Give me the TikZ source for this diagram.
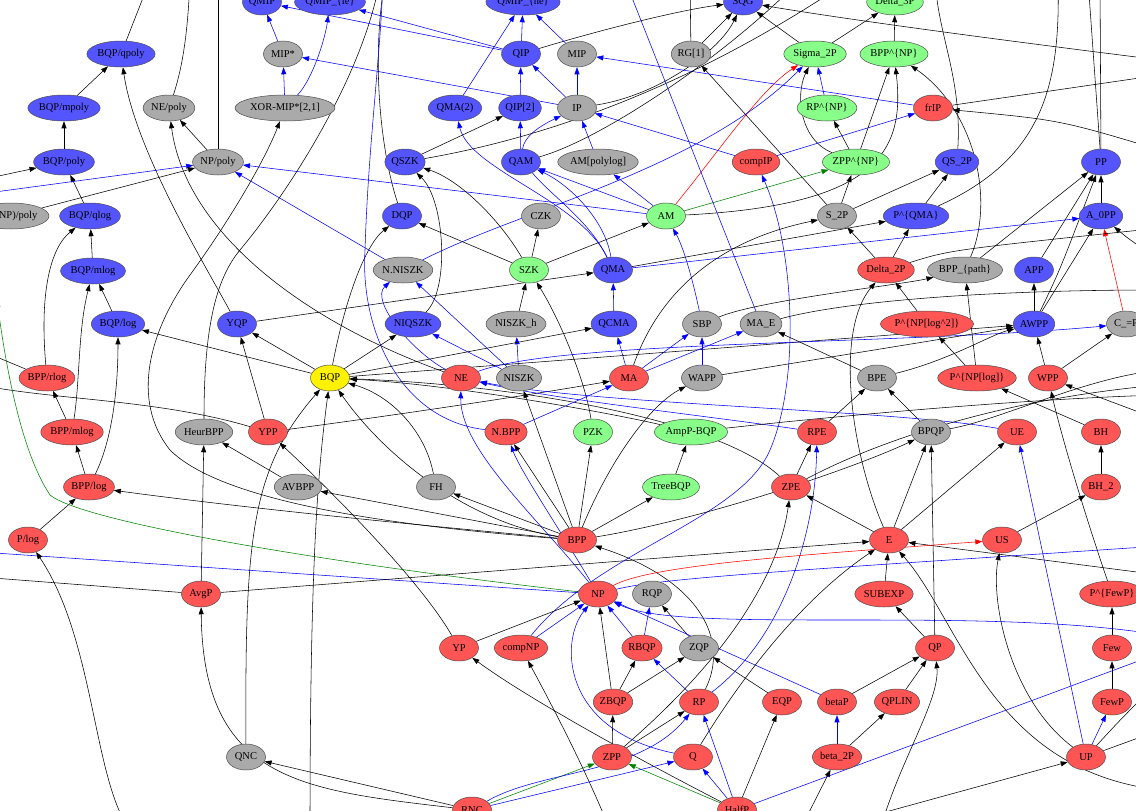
\documentclass[tikz,border=0pt]{standalone}
\usepackage{fontspec}
\setmainfont{Liberation Serif}
\usetikzlibrary{shapes.geometric,arrows.meta}
\pgfdeclarelayer{bg}
\pgfsetlayers{bg,main}
\definecolor{qblue}{RGB}{85,85,255}
\definecolor{cred}{RGB}{255,85,85}
\definecolor{cgray}{RGB}{170,170,170}
\definecolor{cgreen}{RGB}{136,255,136}
\definecolor{egreen}{RGB}{0,128,0}
\newcommand\crt{\textasciicircum}
\newcommand\usc{\_}
\begin{document}
\begin{tikzpicture}[x=1pt,y=-1pt]
\tikzset{
  cls/.style={ellipse,draw=black!70,line width=0.5pt,inner sep=0.5pt,
    minimum width=39pt,minimum height=26pt,font=\fontsize{10.5}{12}\selectfont},
  qn/.style={cls,fill=qblue},
  rn/.style={cls,fill=cred},
  gn/.style={cls,fill=cgray},
  grn/.style={cls,fill=cgreen},
  yn/.style={cls,fill=yellow},
  e/.style={line width=0.55pt,-{Triangle[length=7pt,width=5pt]}},
  eb/.style={e,blue},
  er/.style={e,red},
  eg/.style={e,egreen},
}
\useasboundingbox (0,0) rectangle (1136,811);
\clip (0,0) rectangle (1136,811);
% quantum classes
\node[qn] (QMIP) at (262,2) {QMIP};
\node[qn] (QMIPle) at (330,2) {QMIP\usc\{le\}};
\node[qn] (QMIPne) at (523,2) {QMIP\usc\{ne\}};
\node[qn] (SQG) at (743,2) {SQG};
\node[qn] (BQPqpoly) at (121,54) {BQP/qpoly};
\node[qn] (QIP) at (521,54) {QIP};
\node[qn] (BQPmpoly) at (64,108) {BQP/mpoly};
\node[qn] (QMAtwo) at (455,108) {QMA(2)};
\node[qn] (QIPtwo) at (520,108) {QIP[2]};
\node[qn] (BQPpoly) at (64,162) {BQP/poly};
\node[qn] (QSZK) at (405,162) {QSZK};
\node[qn] (QAM) at (521,162) {QAM};
\node[qn] (QStwoP) at (957,162) {QS\usc2P};
\node[qn] (PP) at (1101,162) {PP};
\node[qn] (BQPqlog) at (90,216) {BQP/qlog};
\node[qn] (DQP) at (402,216) {DQP};
\node[qn] (PQMA) at (916,216) {P\crt\{QMA\}};
\node[qn] (AzeroPP) at (1101,216) {A\usc0PP};
\node[qn] (BQPmlog) at (93,271) {BQP/mlog};
\node[qn] (QMA) at (613,270) {QMA};
\node[qn] (APP) at (1034,270) {APP};
\node[qn] (BQPlog) at (118,324) {BQP/log};
\node[qn] (YQP) at (237,324) {YQP};
\node[qn] (NIQSZK) at (413,324) {NIQSZK};
\node[qn] (QCMA) at (614,324) {QCMA};
\node[qn] (AWPP) at (1034,324) {AWPP};
% gray classes
\node[gn] (MIPs) at (283,54) {MIP*};
\node[gn] (MIP) at (577,54) {MIP};
\node[gn] (RGone) at (691,54) {RG[1]};
\node[gn] (NEpoly) at (169,108) {NE/poly};
\node[gn] (XORMIP) at (285,108) {XOR-MIP*[2,1]};
\node[gn] (IP) at (577,108) {IP};
\node[gn] (NPpoly) at (218,162) {NP/poly};
\node[gn] (AMpolylog) at (598,162) {AM[polylog]};
\node[gn] (PNPpoly) at (11,216) {P\crt(NP)/poly};
\node[gn] (CZK) at (541,216) {CZK};
\node[gn] (StwoP) at (837,216) {S\usc2P};
\node[gn] (NNISZK) at (403,270) {N.NISZK};
\node[gn] (BPPpath) at (965,270) {BPP\usc\{path\}};
\node[gn] (NISZKh) at (516,324) {NISZK\usc h};
\node[gn] (SBP) at (702,324) {SBP};
\node[gn] (MAE) at (761,324) {MA\usc E};
\node[gn] (CeqP) at (1126,324) {C\usc=P};
\node[gn] (NISZK) at (519,378) {NISZK};
\node[gn] (WAPP) at (702,378) {WAPP};
\node[gn] (BPE) at (877,378) {BPE};
\node[gn] (HeurBPP) at (204,432) {HeurBPP};
\node[gn] (BPQP) at (931,432) {BPQP};
\node[gn] (AVBPP) at (298,487) {AVBPP};
\node[gn] (FH) at (436,487) {FH};
\node[gn] (RQP) at (652,594) {RQP};
\node[gn] (ZQP) at (699,648) {ZQP};
\node[gn] (QNC) at (246,757) {QNC};
% green classes
\node[grn] (DelThreeP) at (895,2) {Delta\usc3P};
\node[grn] (SigTwoP) at (815,54) {Sigma\usc2P};
\node[grn] (BPPNP) at (894,54) {BPP\crt\{NP\}};
\node[grn] (RPNP) at (827,108) {RP\crt\{NP\}};
\node[grn] (ZPPNP) at (856,162) {ZPP\crt\{NP\}};
\node[grn] (AM) at (666,216) {AM};
\node[grn] (SZK) at (529,270) {SZK};
\node[grn] (PZK) at (593,432) {PZK};
\node[grn] (AmpPBQP) at (691,432) {AmpP-BQP};
\node[grn] (TreeBQP) at (671,487) {TreeBQP};
\node[yn] (BQP) at (330,378) {BQP};
% red classes
\node[rn] (frIP) at (933,108) {frIP};
\node[rn] (compIP) at (756,162) {compIP};
\node[rn] (DelTwoP) at (886,270) {Delta\usc2P};
\node[rn] (PNPlogsq) at (927,324) {P\crt\{NP[log\crt2]\}};
\node[rn] (BPPrlog) at (47,378) {BPP/rlog};
\node[rn] (NE) at (461,378) {NE};
\node[rn] (MA) at (629,378) {MA};
\node[rn] (PNPlog) at (977,378) {P\crt\{NP[log]\}};
\node[rn] (WPP) at (1048,378) {WPP};
\node[rn] (BPPmlog) at (72,432) {BPP/mlog};
\node[rn] (YPP) at (268,432) {YPP};
\node[rn] (NBPP) at (506,432) {N.BPP};
\node[rn] (RPE) at (817,432) {RPE};
\node[rn] (UE) at (1017,432) {UE};
\node[rn] (BH) at (1101,432) {BH};
\node[rn] (BPPlog) at (89,487) {BPP/log};
\node[rn] (ZPE) at (791,487) {ZPE};
\node[rn] (BHtwo) at (1101,487) {BH\usc2};
\node[rn] (Plog) at (28,540) {P/log};
\node[rn] (BPP) at (577,540) {BPP};
\node[rn] (E) at (889,540) {E};
\node[rn] (US) at (1002,540) {US};
\node[rn] (AvgP) at (201,594) {AvgP};
\node[rn] (NP) at (598,594) {NP};
\node[rn] (SUBEXP) at (884,594) {SUBEXP};
\node[rn] (PFewP) at (1112,594) {P\crt\{FewP\}};
\node[rn] (YP) at (459,648) {YP};
\node[rn] (compNP) at (521,648) {compNP};
\node[rn] (RBQP) at (642,648) {RBQP};
\node[rn] (QP) at (935,648) {QP};
\node[rn] (Few) at (1112,648) {Few};
\node[rn] (ZBQP) at (613,702) {ZBQP};
\node[rn] (RP) at (699,702) {RP};
\node[rn] (EQP) at (782,702) {EQP};
\node[rn] (betaP) at (837,702) {betaP};
\node[rn] (QPLIN) at (897,702) {QPLIN};
\node[rn] (FewP) at (1112,702) {FewP};
\node[rn] (ZPP) at (612,757) {ZPP};
\node[rn] (Q) at (693,757) {Q};
\node[rn] (betaTwoP) at (837,757) {beta\usc2P};
\node[rn] (UP) at (1086,757) {UP};
\node[rn] (RNC) at (472,810) {RNC};
\node[rn] (HalfP) at (737,810) {HalfP};
% loose ends outside the frame
\coordinate (w1) at (150,-20);  \coordinate (w2) at (190,-20);
\coordinate (w3) at (218,-20);  \coordinate (w4) at (-20,180);
\coordinate (w5) at (-20,194);  \coordinate (w6) at (380,-20);
\coordinate (w7) at (690,-20);  \coordinate (w8) at (850,-20);
\coordinate (w9) at (800,-20);  \coordinate (w10) at (385,-20);
\coordinate (w11) at (383,-20); \coordinate (w12) at (-20,350);
\coordinate (w13) at (-20,385); \coordinate (w14) at (-3,300);
\coordinate (w15) at (-20,552); \coordinate (w16) at (-20,577);
\coordinate (w17) at (310,830); \coordinate (w18) at (1160,635);
\coordinate (w19) at (1160,653); \coordinate (w20) at (130,830);
\coordinate (w21) at (880,830); \coordinate (w22) at (1160,790);
\coordinate (w23) at (1160,575); \coordinate (w24) at (1160,546);
\coordinate (w25) at (610,830); \coordinate (w27) at (1160,290);
\coordinate (w28) at (625,-20); \coordinate (w29) at (1160,395);
\coordinate (w30) at (1160,420); \coordinate (w31) at (1160,730);
\coordinate (w32) at (1160,680); \coordinate (w33) at (820,830);
\coordinate (w34) at (800,830); \coordinate (w35) at (1160,75);
\coordinate (w36) at (1160,150); \coordinate (w37) at (935,-20);
\coordinate (w38) at (1058,-20); \coordinate (w39) at (1088,-20);
\coordinate (w40) at (1100,-20); \coordinate (w41) at (1160,260);
\coordinate (w42) at (1160,228); \coordinate (w44) at (1160,60);
\coordinate (w45) at (1160,385); \coordinate (w47) at (1160,370);
\begin{pgfonlayer}{bg}
\clip (0,0) rectangle (1136,811);
% left column
\draw[e] (BQPmpoly) -- (BQPqpoly);
\draw[e] (BQPpoly) -- (BQPmpoly);
\draw[e] (BQPqlog) -- (BQPpoly);
\draw[e] (BQPmlog) -- (BQPqlog);
\draw[e] (BQPlog) -- (BQPmlog);
\draw[e] (BPPrlog) .. controls (40,300) and (48,250) .. (BQPqlog);
\draw[e] (BPPmlog) .. controls (80,380) and (78,330) .. (BQPmlog);
\draw[e] (BPPmlog) -- (BPPrlog);
\draw[e] (BPPlog) -- (BPPmlog);
\draw[e] (BPPlog) .. controls (112,440) and (118,390) .. (BQPlog);
\draw[e] (Plog) -- (BPPlog);
\draw[e] (BQPqpoly) -- (w1);
\draw[e] (NEpoly) .. controls (185,60) and (188,20) .. (w2);
\draw[e] (NPpoly) -- (w3);
\draw[e] (w4) -- (BQPpoly);
\draw[eb] (w5) -- (NPpoly);
\draw[e] (PNPpoly) -- (NPpoly);
\draw[e] (NPpoly) -- (NEpoly);
\draw[eb] (NNISZK) -- (NPpoly);
\draw[eb] (AM) -- (NPpoly);
\draw[e] (YQP) .. controls (205,265) and (135,150) .. (BQPqpoly);
\draw[e] (NE) .. controls (300,320) and (185,230) .. (NEpoly);
\draw[e] (BPP) .. controls (380,525) and (220,500) .. (170,450)
  .. controls (130,400) and (150,330) .. (190,275)
  .. controls (230,220) and (265,160) .. (XORMIP);
\draw[e] (HeurBPP) .. controls (204,330) and (215,280) .. (240,250)
  .. controls (290,190) and (360,80) .. (w6);
\draw[eb] (XORMIP) -- (MIPs);
\draw[eb] (XORMIP) .. controls (312,80) and (325,40) .. (QMIPle);
\draw[eb] (MIPs) -- (QMIP);
\draw[eb] (QIP) -- (QMIP);
\draw[eb] (QIP) -- (QMIPle);
\draw[eb] (IP) -- (MIPs);
% upper middle
\draw[e] (QIP) .. controls (600,30) and (680,10) .. (SQG);
\draw[e] (IP) .. controls (660,95) and (720,50) .. (SQG);
\draw[e] (RGone) -- (SQG);
\draw[e] (RGone) -- (w7);
\draw[e] (SigTwoP) -- (SQG);
\draw[e] (w44) .. controls (1000,40) and (850,20) .. (SQG);
\draw[e] (StwoP) -- (RGone);
\draw[er] (AM) .. controls (720,150) and (760,90) .. (SigTwoP);
\draw[eb] (NNISZK) .. controls (520,210) and (700,170) .. (SigTwoP);
\draw[e] (ZPPNP) .. controls (800,140) and (795,95) .. (SigTwoP);
\draw[eb] (RPNP) -- (SigTwoP);
\draw[e] (ZPPNP) -- (RPNP);
\draw[eg] (AM) -- (ZPPNP);
\draw[e] (StwoP) -- (ZPPNP);
\draw[eb] (compIP) -- (frIP);
\draw[eb] (frIP) -- (MIP);
\draw[eb] (compIP) -- (IP);
\draw[eb] (AMpolylog) -- (IP);
\draw[eb] (AM) -- (AMpolylog);
\draw[eb] (AM) -- (QAM);
\draw[eb] (SBP) .. controls (695,290) and (685,250) .. (AM);
\draw[e] (SZK) -- (AM);
\draw[eb] (QMA) .. controls (605,220) and (570,185) .. (QAM);
\draw[eb] (QMA) .. controls (580,200) and (470,170) .. (QMAtwo);
\draw[eb] (QMA) .. controls (575,190) and (470,160) .. (IP);
\draw[eb] (QIPtwo) -- (QIP);
\draw[eb] (QAM) -- (QIPtwo);
\draw[eb] (IP) -- (QIP);
\draw[eb] (IP) -- (MIP);
\draw[eb] (MIP) -- (QMIPne);
\draw[eb] (QIP) -- (QMIPne);
\draw[eb] (QMAtwo) -- (QMIPne);
\draw[e] (QSZK) -- (QIPtwo);
\draw[e] (QSZK) .. controls (560,135) and (700,80) .. (w8);
\draw[e] (QAM) .. controls (600,140) and (720,60) .. (w9);
\draw[e] (SZK) .. controls (500,220) and (460,180) .. (QSZK);
\draw[e] (SZK) -- (CZK);
\draw[e] (SZK) -- (DQP);
\draw[e] (NIQSZK) .. controls (450,290) and (445,200) .. (QSZK);
\draw[e] (BQP) .. controls (345,300) and (365,245) .. (DQP);
\draw[e] (DQP) .. controls (380,150) and (372,60) .. (w10);
\draw[eb] (NBPP) .. controls (400,420) and (360,330) .. (365,250)
  .. controls (368,150) and (380,60) .. (w11);
\draw[e] (BQP) -- (NIQSZK);
\draw[eb] (NISZK) -- (NISZKh);
\draw[eb] (NISZK) -- (NNISZK);
\draw[eb] (NISZK) -- (NIQSZK);
\draw[e] (NISZKh) -- (SZK);
\draw[eb] (NE) .. controls (410,350) and (370,300) .. (NNISZK);
\draw[e] (YQP) -- (QMA);
\draw[e] (QMA) -- (PQMA);
\draw[eb] (QMA) -- (AzeroPP);
\draw[e] (PZK) .. controls (585,380) and (560,320) .. (SZK);
% around BQP
\draw[e] (BQP) -- (BQPlog);
\draw[e] (BQP) -- (YQP);
\draw[e] (YPP) -- (YQP);
\draw[e] (BPPrlog) -- (w12);
\draw[e] (YPP) .. controls (160,400) and (60,400) .. (w13);
\draw[eg] (NP) .. controls (300,560) and (80,520) .. (50,495)
  .. controls (20,450) and (5,360) .. (w14);
\draw[eb] (NP) -- (w15);
\draw[e] (AvgP) -- (w16);
\draw[e] (AvgP) -- (E);
\draw[e] (AvgP) -- (HeurBPP);
\draw[e] (AVBPP) -- (HeurBPP);
\draw[e] (BPP) -- (AVBPP);
\draw[e] (BPP) .. controls (420,525) and (260,510) .. (BPPlog);
\draw[e] (BPP) -- (FH);
\draw[e] (HalfP) .. controls (640,760) and (530,700) .. (YP);
\draw[e] (YP) .. controls (420,580) and (330,490) .. (YPP);
\draw[e] (YPP) .. controls (360,420) and (500,400) .. (MA);
\draw[e] (QNC) .. controls (245,540) and (250,470) .. (BQP);
\draw[e] (w17) .. controls (310,560) and (318,470) .. (BQP);
\draw[e] (BPP) .. controls (460,520) and (380,450) .. (BQP);
\draw[e] (FH) .. controls (425,430) and (390,395) .. (BQP);
\draw[e] (AmpPBQP) .. controls (620,415) and (460,385) .. (BQP);
\draw[e] (ZPE) .. controls (720,420) and (520,385) .. (BQP);
\draw[e] (BQP) -- (QCMA);
\draw[e] (BQP) -- (AWPP);
% bottom
\draw[e] (ZBQP) -- (NP);
\draw[eb] (RBQP) -- (NP);
\draw[eb] (RBQP) -- (RQP);
\draw[e] (ZQP) -- (RQP);
\draw[e] (ZBQP) -- (RBQP);
\draw[e] (ZBQP) -- (ZQP);
\draw[e] (ZPP) -- (ZBQP);
\draw[eb] (RP) -- (RBQP);
\draw[e] (EQP) -- (ZQP);
\draw[eb] (betaP) -- (NP);
\draw[eb] (w18) .. controls (980,605) and (680,635) .. (NP);
\draw[e] (ZPP) -- (RP);
\draw[e] (ZPP) .. controls (690,690) and (775,600) .. (ZPE);
\draw[eb] (Q) .. controls (560,730) and (560,640) .. (NP);
\draw[e] (Q) .. controls (740,680) and (800,600) .. (E);
\draw[e] (RP) .. controls (730,640) and (700,580) .. (BPP);
\draw[eb] (RP) .. controls (780,640) and (815,540) .. (RPE);
\draw[eb] (HalfP) -- (RP);
\draw[e] (HalfP) -- (EQP);
\draw[eb] (HalfP) -- (Q);
\draw[eg] (HalfP) -- (ZPP);
\draw[eb] (HalfP) -- (w19);
\draw[eg] (RNC) -- (ZPP);
\draw[eb] (RNC) .. controls (540,770) and (640,775) .. (RP);
\draw[eb] (RNC) -- (Q);
\draw[e] (RNC) -- (QNC);
\draw[e] (RNC) .. controls (300,790) and (203,780) .. (AvgP);
\draw[e] (w20) .. controls (93,780) and (95,640) .. (Plog);
\draw[eb] (betaTwoP) -- (betaP);
\draw[e] (betaTwoP) -- (QPLIN);
\draw[e] (QPLIN) -- (QP);
\draw[e] (betaP) -- (QP);
\draw[e] (QP) -- (SUBEXP);
\draw[e] (SUBEXP) -- (E);
\draw[e] (QP) -- (BPQP);
\draw[e] (w21) .. controls (900,760) and (940,700) .. (QP);
\draw[e] (w22) .. controls (990,770) and (960,620) .. (E);
\draw[e] (w23) -- (E);
\draw[er] (NP) .. controls (650,565) and (800,555) .. (US);
\draw[eb] (NP) .. controls (660,578) and (800,570) .. (w24);
\draw[eb] (compNP) -- (NP);
\draw[eb] (compNP) .. controls (600,550) and (740,520) .. (770,450)
  .. controls (800,380) and (795,250) .. (compIP);
\draw[e] (YP) -- (NP);
\draw[e] (w25) .. controls (590,780) and (560,720) .. (compNP);
\draw[eb] (NP) .. controls (560,530) and (520,470) .. (NBPP);
\draw[eb] (NP) .. controls (540,520) and (460,450) .. (NE);
\draw[e] (BPP) -- (NBPP);
\draw[e] (BPP) -- (NISZK);
\draw[e] (BPP) -- (PZK);
\draw[e] (BPP) -- (TreeBQP);
\draw[e] (BPP) .. controls (610,460) and (650,405) .. (WAPP);
\draw[e] (BPP) .. controls (700,520) and (850,470) .. (BPQP);
\draw[eb] (NBPP) -- (MA);
\draw[eb] (NE) .. controls (560,340) and (900,345) .. (CeqP);
\draw[eb] (RPE) .. controls (700,415) and (560,400) .. (NE);
\draw[eb] (UE) .. controls (900,410) and (600,405) .. (NE);
\draw[eb] (MA) -- (QCMA);
\draw[eb] (MA) -- (SBP);
\draw[eb] (MA) -- (MAE);
\draw[e] (MA) .. controls (660,290) and (720,240) .. (StwoP);
\draw[eb] (QCMA) -- (QMA);
\draw[eb] (WAPP) -- (SBP);
\draw[e] (WAPP) -- (AWPP);
\draw[e] (SBP) .. controls (760,300) and (900,285) .. (BPPpath);
\draw[e] (MAE) .. controls (850,300) and (1000,290) .. (w27);
\draw[eb] (MAE) -- (w28);
\draw[e] (AmpPBQP) .. controls (800,420) and (1000,400) .. (w29);
\draw[e] (TreeBQP) -- (AmpPBQP);
\draw[e] (ZPE) -- (RPE);
\draw[e] (ZPE) .. controls (880,440) and (1000,400) .. (w45);
\draw[e] (E) -- (ZPE);
\draw[e] (RPE) -- (BPE);
\draw[e] (BPQP) -- (BPE);
\draw[e] (BPQP) .. controls (1000,420) and (1080,380) .. (w47);
\draw[e] (BPE) -- (MAE);
\draw[e] (BPE) .. controls (950,360) and (990,335) .. (AWPP);
% right side
\draw[e] (PNPlog) -- (PNPlogsq);
\draw[e] (PNPlog) -- (BPPpath);
\draw[e] (PNPlogsq) -- (DelTwoP);
\draw[e] (BH) -- (PNPlog);
\draw[e] (BHtwo) -- (BH);
\draw[e] (US) -- (BHtwo);
\draw[e] (E) -- (BPQP);
\draw[e] (E) -- (UE);
\draw[e] (E) .. controls (850,450) and (835,330) .. (DelTwoP);
\draw[eb] (UP) -- (UE);
\draw[e] (UP) .. controls (1010,700) and (990,600) .. (US);
\draw[eb] (UP) -- (FewP);
\draw[e] (FewP) -- (Few);
\draw[e] (Few) -- (PFewP);
\draw[e] (PFewP) .. controls (1080,500) and (1060,430) .. (WPP);
\draw[e] (w30) -- (WPP);
\draw[e] (UP) -- (w31);
\draw[e] (UP) .. controls (1120,720) .. (w32);
\draw[e] (w33) -- (UP);
\draw[e] (w34) -- (betaTwoP);
\draw[e] (BPPNP) -- (DelThreeP);
\draw[e] (SigTwoP) -- (DelThreeP);
\draw[e] (ZPPNP) -- (BPPNP);
\draw[e] (AM) .. controls (880,205) and (905,150) .. (BPPNP);
\draw[e] (BPPpath) .. controls (995,200) and (975,110) .. (BPPNP);
\draw[e] (BPPpath) -- (PP);
\draw[e] (frIP) -- (w35);
\draw[e] (w36) .. controls (1060,120) .. (frIP);
\draw[e] (QStwoP) .. controls (962,80) and (940,40) .. (w37);
\draw[e] (StwoP) -- (QStwoP);
\draw[e] (PQMA) -- (QStwoP);
\draw[e] (DelTwoP) -- (StwoP);
\draw[e] (DelTwoP) -- (PQMA);
\draw[e] (PQMA) .. controls (1040,160) and (1060,90) .. (w38);
\draw[e] (PP) -- (w39);
\draw[e] (PP) -- (w40);
\draw[e] (AzeroPP) -- (PP);
\draw[e] (APP) -- (PP);
\draw[e] (AWPP) -- (AzeroPP);
\draw[er] (CeqP) -- (AzeroPP);
\draw[e] (w41) .. controls (1130,240) .. (AzeroPP);
\draw[e] (DelTwoP) .. controls (950,250) .. (w42);
\draw[e] (AWPP) -- (APP);
\draw[e] (WPP) -- (AWPP);
\draw[e] (WPP) -- (CeqP);
\draw[e] (AWPP) .. controls (1060,270) .. (PP);
\end{pgfonlayer}
\end{tikzpicture}
\end{document}
